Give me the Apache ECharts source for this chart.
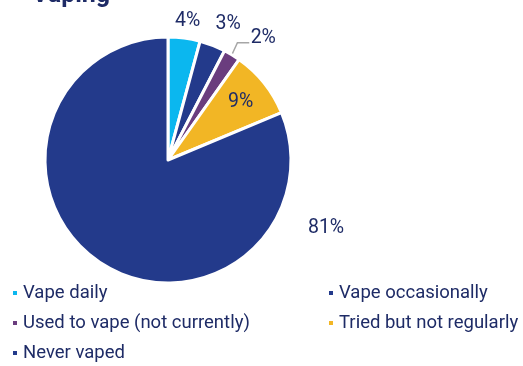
<!DOCTYPE html>
<html><head><meta charset="utf-8">
<script src="https://cdn.jsdelivr.net/npm/echarts@6/dist/echarts.min.js"></script>
<style>html,body{margin:0;padding:0;background:#fff}#c{width:523px;height:366px}</style>
</head><body><div id="c"></div>
<script>
const titleText = 'Vaping';
const categories = ['Vape daily','Vape occasionally','Used to vape (not currently)','Tried but not regularly','Never vaped'];
const values = [4.2, 3.4, 2.2, 8.9, 81.3];
const colors = ['#0BB7EF','#233A8B','#6A3D7E','#F2B625','#233A8B'];
// label placement (radius in px from centre, angle shift in degrees from slice mid-angle)
const labelRadius = [140, 149, 155, 93, 172];
const labelAngleShift = [0.5, 2.6, 6.6, 0, -100.4];

const CX = 168, CY = 160, R = 123;
const total = values.reduce((a,b)=>a+b,0);
const midAngles = [];
let acc = 0;
values.forEach(v => { midAngles.push((acc + v/2)/total*360); acc += v; });

const chart = echarts.init(document.getElementById('c'), null, {renderer:'canvas'});
const txt = '#1E2B66';
const legendText = {fontFamily:'Roboto',fontSize:18.5,color:txt,lineHeight:20};
chart.setOption({
  animation:false,
  title:{text:titleText,left:27,top:-22,padding:5,textStyle:{fontFamily:'Roboto',fontWeight:'bold',fontSize:25,color:'#1E2B66'}},
  legend:[
    {data:[categories[0],categories[2],categories[4]],orient:'vertical',left:11,top:283,padding:0,itemWidth:6,itemHeight:6,itemGap:10,icon:'rect',textStyle:legendText},
    {data:[categories[1],categories[3]],orient:'vertical',left:327,top:283,padding:0,itemWidth:6,itemHeight:6,itemGap:10,icon:'rect',textStyle:legendText}
  ],
  series:[{
    type:'pie',
    center:[CX,CY],radius:[0,R],startAngle:90,clockwise:true,
    avoidLabelOverlap:false,
    itemStyle:{borderColor:'#fff',borderWidth:3},
    label:{show:true,position:'outside',formatter:p=>Math.round(p.value)+'%',fontFamily:'Roboto',fontSize:19.5,color:txt},
    labelLine:{show:false},
    data:categories.map((c,i)=>({name:c,value:values[i],itemStyle:{color:colors[i]},
      labelLine: i===2 ? {show:true,lineStyle:{color:'#A6A6A6',width:1.5}} : {show:false}})),
    labelLayout:function(p){
      const i = p.dataIndex;
      const a = (midAngles[i] + labelAngleShift[i]) * Math.PI/180;
      const x = CX + labelRadius[i]*Math.sin(a);
      const y = CY - labelRadius[i]*Math.cos(a);
      const res = {x:x, y:y, align:'center', verticalAlign:'middle'};
      if (i===2) {
        const ma = midAngles[i]*Math.PI/180;
        const p1 = [CX + (R-1)*Math.sin(ma), CY - (R-1)*Math.cos(ma)];
        const p2 = [p1[0]+6, y+5];
        const p3 = [x-14, y+5];
        res.labelLinePoints = [p1,p2,p3];
      }
      return res;
    }
  }]
});
</script></body></html>
